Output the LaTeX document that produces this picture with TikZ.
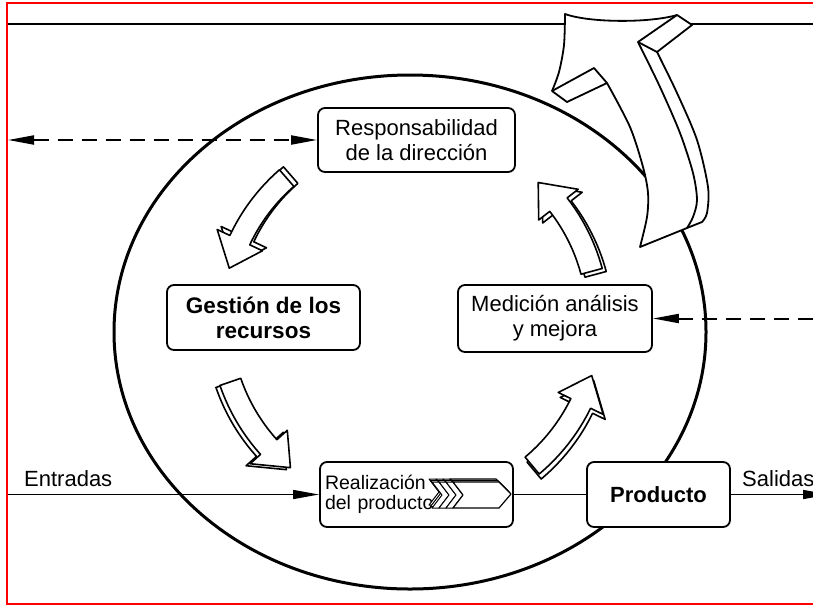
\documentclass[tikz,border=0pt]{standalone}
\usepackage{fontspec}
\setmainfont{Liberation Sans}
\usetikzlibrary{arrows.meta}
\newcommand\myCurvArrow[7]{%
  \pgfmathsetmacro\myHd{(#4>#3?1:-1)*30/#5*180/3.14159}%
  \pgfmathsetmacro\myAb{#4-\myHd}%
  \foreach \sx/\sy in {#6/#7,0/0}{%
    \draw[smallarrow, shift={(\sx,\sy)}]
      plot[domain=#3:\myAb, samples=24] ({#1+(#5+11)*cos(\x)},{#2-(#5+11)*sin(\x)})
      -- ({#1+(#5+25)*cos(\myAb)},{#2-(#5+25)*sin(\myAb)})
      -- ({#1+#5*cos(#4)},{#2-#5*sin(#4)})
      -- ({#1+(#5-25)*cos(\myAb)},{#2-(#5-25)*sin(\myAb)})
      -- plot[domain=\myAb:#3, samples=24] ({#1+(#5-11)*cos(\x)},{#2-(#5-11)*sin(\x)})
      -- cycle;
  }%
}
\begin{document}
\begin{tikzpicture}[x=1pt,y=-1pt,
  procbox/.style={draw, line width=1.8pt, rounded corners=7pt, fill=white, align=center,
    inner sep=0pt, font=\fontsize{22}{25}\selectfont},
  smallarrow/.style={draw, fill=white, line width=1.6pt, line join=round},
  bigarrow/.style={draw, fill=white, line width=1.8pt, line join=round},
  bigline/.style={line width=1.8pt, line join=round},
  arrline/.style={line width=1.4pt, -{Triangle[length=26pt,width=9pt]}},
  dashline/.style={line width=2pt, dash pattern=on 15pt off 9pt},
  lbl/.style={font=\fontsize{22}{25}\selectfont, inner sep=0pt}]
\clip (0,0) rectangle (813,606);
\fill[white] (0,0) rectangle (813,606);

% ellipse
\draw[line width=3pt] (410,332) ellipse [x radius=296pt, y radius=257pt];

% top line
\coordinate (tl) at (8,24);
\coordinate (tr) at (813,24);
\draw[line width=1.8pt] (tl) -- (tr);

% boxes
\node[procbox, minimum width=197pt, minimum height=64pt] (resp) at (416.5,140) {Responsabilidad\\de la dirección};
\node[procbox, minimum width=193pt, minimum height=65pt, font=\fontsize{22.5}{25}\selectfont\bfseries] (gest) at (263.5,317.5) {Gestión de los\\recursos};
\node[procbox, minimum width=194pt, minimum height=67pt] (medi) at (555,318.5) {Medición análisis\\y mejora};
\node[procbox, minimum width=193pt, minimum height=65pt, align=left, text width=183pt, font=\fontsize{19.5}{20.5}\selectfont] (real) at (416.5,494.5) {Realización\\del producto};
\node[procbox, minimum width=143pt, minimum height=65pt, font=\fontsize{22}{25}\selectfont\bfseries] (prod) at (658.5,494.5) {Producto};

% chevron icon inside realizacion
\foreach \o in {3,1.5,0}{
  \begin{scope}[shift={(-\o,-\o)}]
    \foreach \xo in {432,439,446}{
      \draw[fill=white, line width=1pt, line join=round] (\xo,482) -- (\xo+7,482) -- (\xo+17,495) -- (\xo+7,508) -- (\xo,508) -- (\xo+10,495) -- cycle;
    }
    \draw[fill=white, line width=1.2pt, line join=round] (453,482) -- (499,482) -- (511,494) -- (499,508) -- (453,508) -- (463,495) -- cycle;
  \end{scope}
}

% connectors
\coordinate (lft) at (8,140);
\coordinate (rgt) at (813,318.5);
\coordinate (ein) at (8,494.5);
\coordinate (sout) at (829,494.5);
\draw[dashline, {Triangle[length=26pt,width=9pt]}-{Triangle[length=26pt,width=9pt]}] (lft) -- (resp.west);
\draw[dashline, -{Triangle[length=26pt,width=9pt]}] (rgt) -- (medi.east);
\draw[arrline] (ein) -- (real.west);
\draw[line width=1.4pt] (real.east) -- (prod.west);
\draw[arrline] (prod.east) -- (sout);
\node[lbl, anchor=base west] (lblin) at (24,486) {Entradas};
\node[lbl, anchor=base west] (lblout) at (742,486) {Salidas};

% small cycle arrows
\myCurvArrow{410}{320}{131}{164}{188}{4}{-3}
\myCurvArrow{410}{320}{199}{231}{190}{-4}{2}
\myCurvArrow{410}{320}{310}{343}{190}{2}{5}
\myCurvArrow{410}{320}{15}{47}{188}{4}{3}

% big 3D arrow
\path[bigarrow] (565,14) .. controls (590,23) and (650,23) .. (677,15) -- (692,25) -- (657,52)
  -- plot[smooth] coordinates {(657,52) (677,93) (697,140) (708,187) (707,213) (702,222)}
  -- (687,228) -- (640,247)
  -- plot[smooth] coordinates {(640,247) (647,217) (648,193) (643,167) (630,127) (607,83)}
  -- (567,102) -- (552,91)
  -- plot[smooth] coordinates {(552,91) (559,72) (564,45) (565,14)}
  -- cycle;
\draw[bigline] (677,15) -- (638,42) -- (657,52);
\draw[bigline] plot[smooth] coordinates {(638,42) (660,87) (680,133) (693,173) (697,200) (693,217) (687,228)};
\draw[bigline] (552,91) -- (594,68) -- (607,83);

% red frame
\draw[red, line width=2.5pt] (820,3) -- (7,3) -- (7,604) -- (820,604);
\end{tikzpicture}
\end{document}
